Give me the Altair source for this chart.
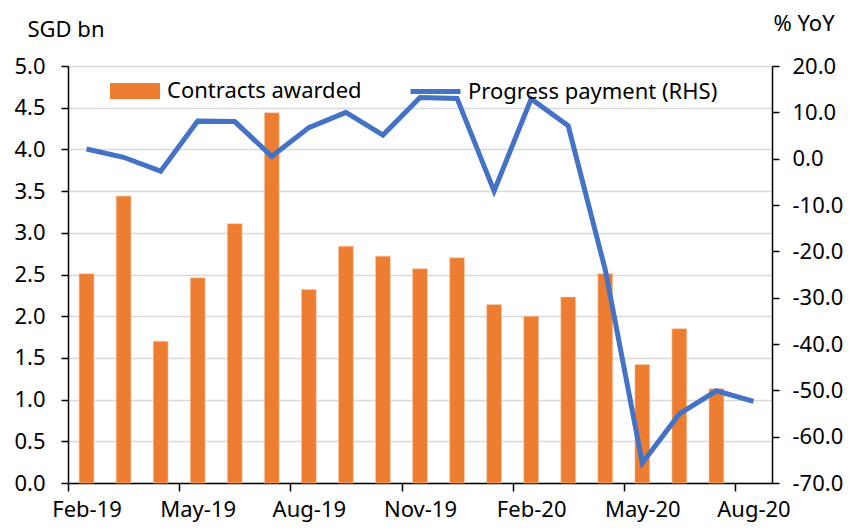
import altair as alt
import pandas as pd

months = ["Feb-19", "Mar-19", "Apr-19", "May-19", "Jun-19", "Jul-19", "Aug-19",
          "Sep-19", "Oct-19", "Nov-19", "Dec-19", "Jan-20", "Feb-20", "Mar-20",
          "Apr-20", "May-20", "Jun-20", "Jul-20", "Aug-20"]
contracts = [2.51, 3.44, 1.70, 2.46, 3.11, 4.44, 2.32, 2.84, 2.72, 2.57, 2.70,
             2.14, 2.00, 2.23, 2.51, 1.42, 1.85, 1.13, None]
progress = [2.1, 0.3, -2.7, 8.1, 8.0, 0.5, 6.7, 10.0, 5.1, 13.2, 13.0,
            -7.0, 12.9, 7.1, -24.0, -65.7, -55.1, -50.1, -52.4]
label_months = ["Feb-19", "May-19", "Aug-19", "Nov-19", "Feb-20", "May-20", "Aug-20"]
left_ticks = [0.0, 0.5, 1.0, 1.5, 2.0, 2.5, 3.0, 3.5, 4.0, 4.5, 5.0]
right_ticks = [20, 10, 0, -10, -20, -30, -40, -50, -60, -70]
series_bar = "Contracts awarded"
series_line = "Progress payment (RHS)"

df = pd.DataFrame({"month": months, "contracts": contracts, "progress": progress})
df["s_bar"] = series_bar
df["s_line"] = series_line

FONT = "Noto Sans"
FS = 22
ORANGE = "#ED7D31"
BLUE = "#4472C4"

x_enc = alt.X(
    "month:N",
    sort=months,
    scale=alt.Scale(domain=months, paddingInner=0.6, paddingOuter=0.3),
    axis=alt.Axis(
        title=None, values=label_months, labelAngle=0, tickSize=8,
        tickOffset=-18.5, labelOffset=18.5, labelPadding=8,
        domainColor="black", tickColor="black", domainWidth=1.5, tickWidth=1.5,
        labelFont=FONT, labelFontSize=FS, labelColor="black", grid=False,
    ),
)

bars = alt.Chart(df).mark_bar(stroke="#f8cbad", strokeWidth=0.6).encode(
    x=x_enc,
    y=alt.Y(
        "contracts:Q",
        scale=alt.Scale(domain=[0, 5], nice=False, zero=True),
        axis=alt.Axis(
            orient="left", values=left_ticks, format=".1f", title="SGD bn",
            titleAngle=0, titleAlign="left", titleBaseline="alphabetic",
            titleX=-41, titleY=-30, titleFont=FONT, titleFontSize=FS,
            titleFontWeight="normal", titleColor="black",
            labelFont=FONT, labelFontSize=FS, labelColor="black", labelPadding=16,
            tickSize=7, tickColor="black", tickWidth=1.5,
            domainColor="black", domainWidth=1.5,
            grid=True, gridColor="#d9d9d9", gridWidth=1.5,
        ),
    ),
    fill=alt.Fill(
        "s_bar:N",
        scale=alt.Scale(domain=[series_bar], range=[ORANGE]),
        legend=alt.Legend(
            title=None, orient="none", legendX=42, legendY=0, padding=0,
            symbolType="M-1,-0.32H1V0.32H-1Z", symbolSize=2500,
            symbolStrokeWidth=0, symbolOpacity=1, labelOffset=7, labelLimit=0,
            labelFont=FONT, labelFontSize=FS, labelColor="black",
        ),
    ),
)

line = alt.Chart(df).mark_line(strokeWidth=5).encode(
    x=x_enc,
    y=alt.Y(
        "progress:Q",
        scale=alt.Scale(domain=[-70, 20], nice=False, zero=False),
        axis=alt.Axis(
            orient="right", values=right_ticks, title="% YoY",
            labelExpr="replace(format(datum.value, '.1f'), '\u2212', '-')",
            titleAngle=0, titleAlign="left", titleBaseline="alphabetic",
            titleX=1, titleY=-36, titleFont=FONT, titleFontSize=FS,
            titleFontWeight="normal", titleColor="black",
            labelFont=FONT, labelFontSize=FS, labelColor="black", labelPadding=13,
            labelAlign="left",
            tickSize=7, tickColor="black", tickWidth=1.5,
            domainColor="black", domainWidth=1.5, grid=False,
        ),
    ),
    stroke=alt.Stroke(
        "s_line:N",
        scale=alt.Scale(domain=[series_line], range=[BLUE]),
        legend=alt.Legend(
            title=None, orient="none", legendX=340, legendY=-2, padding=0,
            symbolType="stroke", symbolSize=2500, symbolStrokeWidth=5,
            labelOffset=5, labelLimit=0,
            labelFont=FONT, labelFontSize=FS, labelColor="black",
        ),
    ),
)

chart = alt.layer(bars, line).resolve_scale(y="independent").properties(
    width=704, height=417,
    autosize=alt.AutoSizeParams(type="none"),
    padding={"left": 60, "top": 58, "right": 75, "bottom": 40},
).configure_view(stroke=None).configure(background="white")

chart.save("out.html", embed_options={"renderer": "svg", "actions": False})
